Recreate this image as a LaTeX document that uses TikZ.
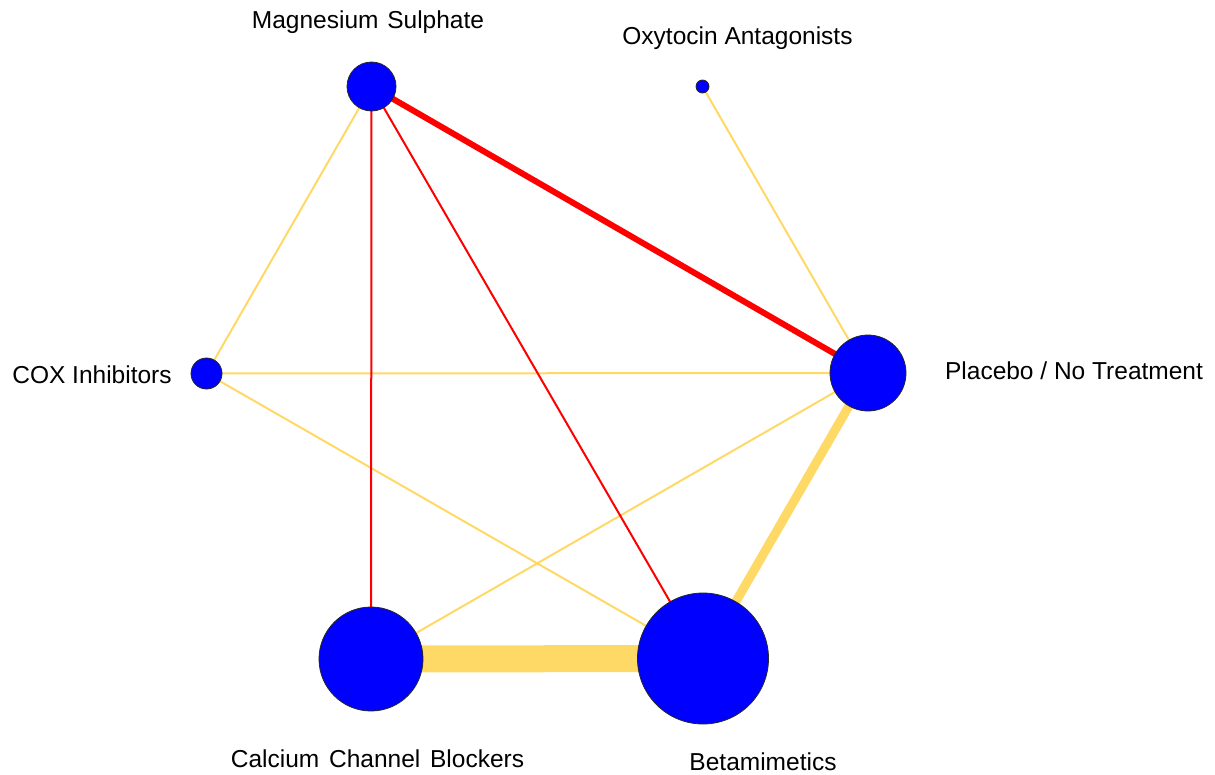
\documentclass[tikz,border=0pt]{standalone}
\usepackage{fontspec}
\setmainfont{Liberation Sans}
\usetikzlibrary{backgrounds}
\definecolor{edgeyellow}{RGB}{255,217,102}
\definecolor{edgered}{RGB}{255,0,0}
\definecolor{nodeblue}{RGB}{0,0,255}
\tikzset{
  trt/.style={circle,fill=nodeblue,draw=black!85,line width=0.8pt,inner sep=0pt,minimum size=#1},
  lbl/.style={font=\fontsize{24.5}{28}\selectfont,inner sep=0pt,anchor=center},
  yedge/.style={draw=edgeyellow,line width=#1},
  redge/.style={draw=edgered,line width=#1},
}
\begin{document}
\begin{tikzpicture}[x=1pt,y=-1pt]
\useasboundingbox (0,0) rectangle (1215,774);
% nodes
\node[trt=49pt] (mg) at (371.5,86.5) {};
\node[trt=13pt] (oxy) at (702.5,86.5) {};
\node[trt=31pt] (cox) at (206.5,373.5) {};
\node[trt=76pt] (pla) at (868,373) {};
\node[trt=104pt] (ccb) at (371,659) {};
\node[trt=131pt] (beta) at (703,658.5) {};
% edges
\begin{scope}[on background layer]
\fill[white] (0,0) rectangle (1215,774);
\draw[yedge=2pt] (mg.center) -- (cox.center);
\draw[yedge=2pt] (oxy.center) -- (pla.center);
\draw[yedge=2pt] (cox.center) -- (pla.center);
\draw[yedge=2pt] (cox.center) -- (beta.center);
\draw[yedge=2pt] (ccb.center) -- (pla.center);
\draw[yedge=27pt] (ccb.center) -- (beta.center);
\draw[yedge=9pt] (beta.center) -- (pla.center);
\draw[redge=2pt] (mg.center) -- (ccb.center);
\draw[redge=2pt] (mg.center) -- (beta.center);
\draw[redge=6pt] (mg.center) -- (pla.center);
\end{scope}
% labels
\node[lbl] (lmg) at (368,22) {Magnesium\hspace{2pt} Sulphate};
\node[lbl] (loxy) at (737.5,38) {Oxytocin Antagonists};
\node[lbl] (lpla) at (1074,371) {Placebo / No Treatment};
\node[lbl] (lcox) at (92,375) {COX Inhibitors};
\node[lbl] (lccb) at (377.5,759) {Calcium\hspace{3pt} Channel\hspace{3pt} Blockers};
\node[lbl] (lbeta) at (763,761.5) {Betamimetics};
\end{tikzpicture}
\end{document}
